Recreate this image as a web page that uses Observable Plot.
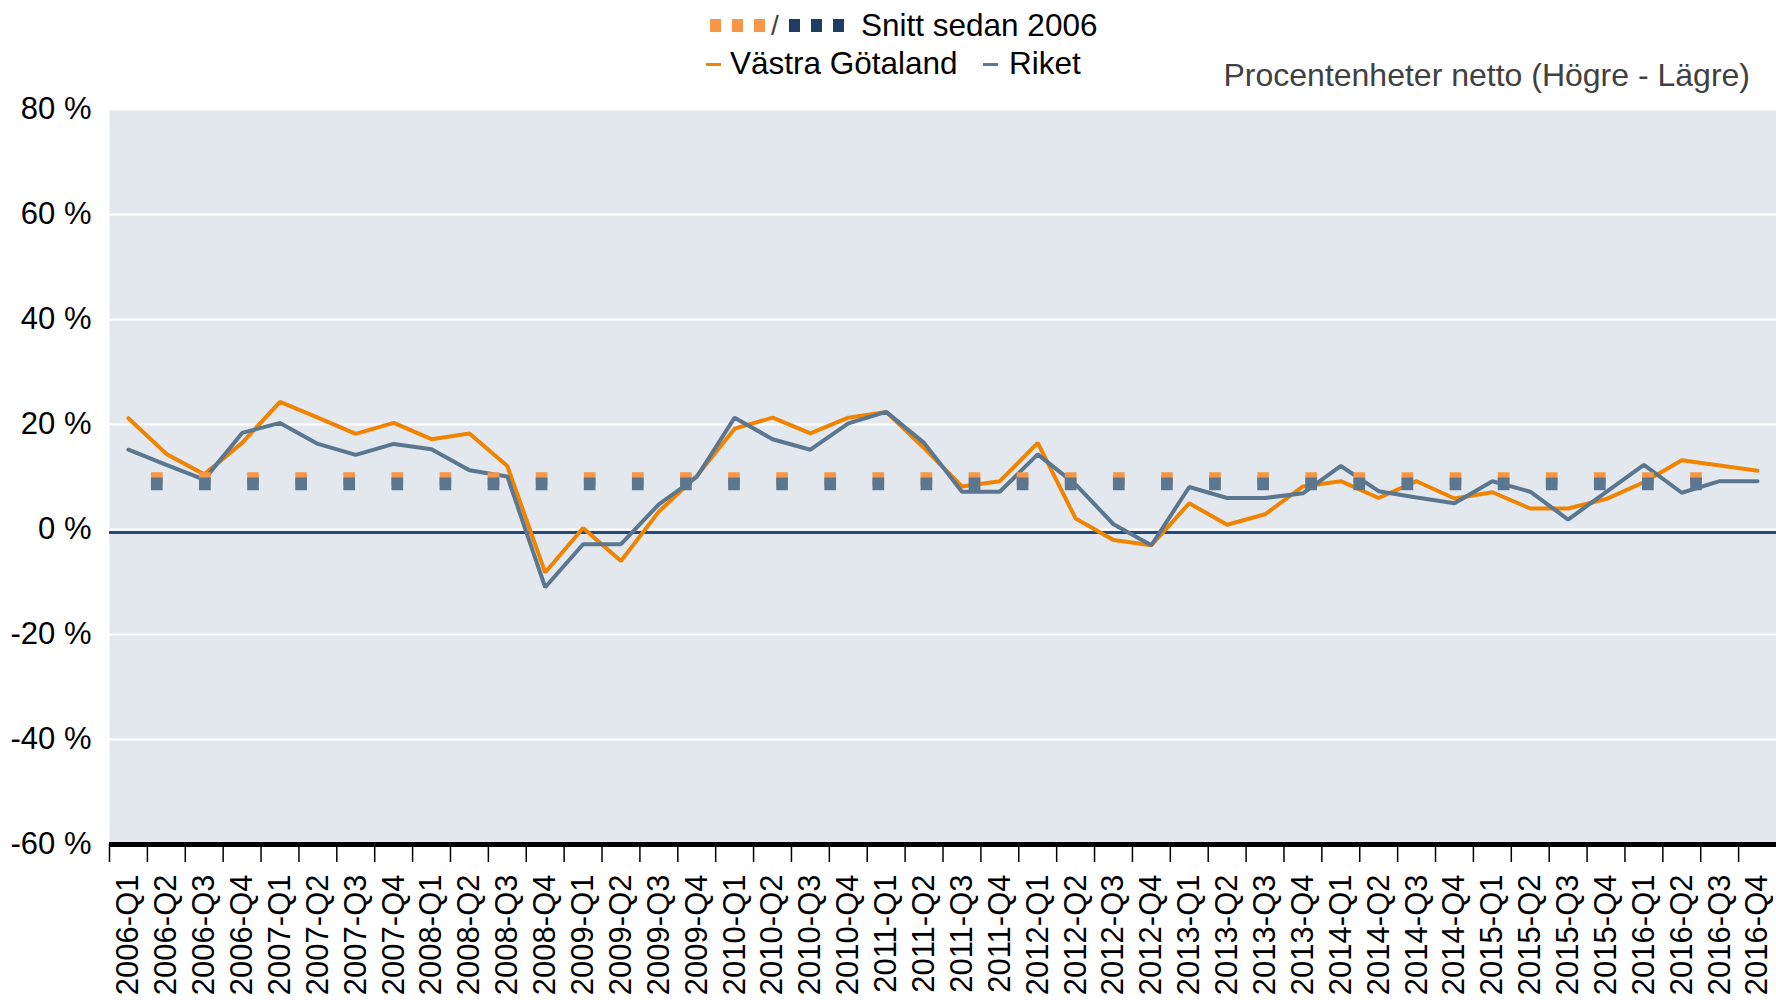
<!DOCTYPE html>
<html>
<head>
<meta charset="utf-8">
<script src="https://cdn.jsdelivr.net/npm/d3@7"></script>
<script src="https://cdn.jsdelivr.net/npm/@observablehq/plot@0.6"></script>
<style>
  body { margin: 0; background: #fff; font-family: "Liberation Sans", Arial, sans-serif; }
  #wrap { width: 1776px; }
  #head { position: relative; width: 1776px; height: 100px; font-size: 31.5px; color: #000; }
  #head .t { position: absolute; line-height: 31px; white-space: nowrap; }
  #head .sq { position: absolute; width: 11px; height: 13px; }
  #head .dash { position: absolute; width: 15px; height: 3px; }
</style>
</head>
<body>
<div id="wrap">
  <div id="head"></div>
  <div id="chart"></div>
</div>
<script>
// ---- data ----
const quarters = [
  "2006-Q1","2006-Q2","2006-Q3","2006-Q4",
  "2007-Q1","2007-Q2","2007-Q3","2007-Q4",
  "2008-Q1","2008-Q2","2008-Q3","2008-Q4",
  "2009-Q1","2009-Q2","2009-Q3","2009-Q4",
  "2010-Q1","2010-Q2","2010-Q3","2010-Q4",
  "2011-Q1","2011-Q2","2011-Q3","2011-Q4",
  "2012-Q1","2012-Q2","2012-Q3","2012-Q4",
  "2013-Q1","2013-Q2","2013-Q3","2013-Q4",
  "2014-Q1","2014-Q2","2014-Q3","2014-Q4",
  "2015-Q1","2015-Q2","2015-Q3","2015-Q4",
  "2016-Q1","2016-Q2","2016-Q3","2016-Q4"
];
const vastraGotaland = [
  21.2, 14.4, 10.5, 16.5,
  24.3, 21.3, 18.2, 20.3,
  17.2, 18.3, 12.1, -8.2,
  0.3, -6.0, 3.4, 10.2,
  19.2, 21.3, 18.3, 21.3,
  22.4, 15.5, 8.2, 9.2,
  16.5, 2.1, -2.0, -3.0,
  5.0, 0.9, 2.9, 8.2,
  9.2, 6.0, 9.2, 5.9,
  7.1, 4.0, 4.0, 5.8,
  9.0, 13.2, 12.2, 11.2
];
const riket = [
  15.2, 12.3, 9.5, 18.4,
  20.3, 16.3, 14.2, 16.3,
  15.3, 11.3, 10.1, -11.0,
  -2.8, -2.8, 4.8, 10.0,
  21.3, 17.2, 15.2, 20.2,
  22.4, 16.5, 7.2, 7.2,
  14.3, 8.6, 1.0, -3.0,
  8.1, 6.0, 6.0, 6.9,
  12.1, 7.3, 6.1, 5.0,
  9.2, 7.2, 1.9, 7.1,
  12.3, 7.0, 9.2, 9.2
];
// "Snitt sedan 2006" (average) series, drawn as a square-dot line
const snittQuarters = quarters.slice(0, 43);
const snittVastraGotaland = 9.7;
const snittRiket = 8.7;
const yTicks = [-60, -40, -20, 0, 20, 40, 60, 80];

const legendSnitt = "Snitt sedan 2006";
const seriesNames = ["Västra Götaland", "Riket"];
const subtitle = "Procentenheter netto (Högre - Lägre)";

// ---- colours ----
const cOrange = "#F08300";
const cSlate = "#5B7790";
const cOrangeLight = "#F79646";
const cNavy = "#1F3D63";

// ---- header (legend + subtitle) ----
const head = document.getElementById("head");
function add(cls, style, text) {
  const el = document.createElement("div");
  el.className = cls;
  Object.assign(el.style, style);
  if (text != null) el.textContent = text;
  head.appendChild(el);
}
[710, 732, 754].forEach(x => add("sq", {left: x + "px", top: "19px", background: cOrangeLight}));
add("t", {left: "771px", top: "10px", color: "#404040", fontSize: "28px"}, "/");
[789, 811, 833].forEach(x => add("sq", {left: x + "px", top: "19px", background: cNavy}));
add("t", {left: "861px", top: "10px"}, legendSnitt);
add("dash", {left: "706px", top: "63px", background: cOrange});
add("t", {left: "730px", top: "48px"}, seriesNames[0]);
add("dash", {left: "983px", top: "63px", background: cSlate});
add("t", {left: "1009px", top: "48px"}, seriesNames[1]);
add("t", {right: "26px", top: "60px", color: "#404040", fontSize: "32px"}, subtitle);

// ---- chart ----
const vgData = quarters.map((q, i) => ({q, v: vastraGotaland[i]}));
const riketData = quarters.map((q, i) => ({q, v: riket[i]}));
const snittVgData = snittQuarters.map(q => ({q, v: snittVastraGotaland}));
const snittRiketData = snittQuarters.map(q => ({q, v: snittRiket}));

const W = 1776, ML = 109, MR = 0;
const step = (W - ML - MR) / quarters.length;

const chart = Plot.plot({
  width: W,
  height: 900,
  marginTop: 9,
  marginBottom: 156,
  marginLeft: ML,
  marginRight: MR,
  style: {
    fontFamily: "'Liberation Sans', Arial, sans-serif",
    fontSize: "31px",
    color: "#000",
    background: "#fff",
    overflow: "visible"
  },
  x: {type: "point", domain: quarters, padding: 0.5, align: 0.5, label: null},
  y: {domain: [-60, 80], label: null},
  marks: [
    Plot.frame({fill: "#E3E8EF", stroke: null}),
    Plot.gridY(yTicks, {stroke: "#fff", strokeOpacity: 1, strokeWidth: 2}),
    Plot.ruleY([0], {stroke: "#244A7C", strokeWidth: 3, dy: 3}),
    Plot.line(vgData, {x: "q", y: "v", stroke: cOrange, strokeWidth: 4, strokeLinejoin: "miter"}),
    Plot.line(riketData, {x: "q", y: "v", stroke: cSlate, strokeWidth: 4, strokeLinejoin: "miter"}),
    Plot.line(snittVgData, {x: "q", y: "v", stroke: cOrangeLight, strokeWidth: 12.7,
      strokeDasharray: "11.7 36.4", strokeDashoffset: 25.6, strokeLinecap: "butt"}),
    Plot.line(snittRiketData, {x: "q", y: "v", stroke: cSlate, strokeWidth: 12.7,
      strokeDasharray: "11.7 36.4", strokeDashoffset: 25.6, strokeLinecap: "butt"}),
    Plot.ruleY([-60], {stroke: "#000", strokeWidth: 5}),
    Plot.axisY(yTicks, {tickSize: 0, tickPadding: 18, tickFormat: d => `${d} %`, fontSize: 31, label: null}),
    Plot.axisX({tickSize: 18, dx: -step / 2, tickFormat: () => "", strokeWidth: 1.5, label: null}),
    Plot.axisX({tickSize: 0, tickPadding: 30, tickRotate: -90, fontSize: 31, label: null})
  ]
});
document.getElementById("chart").appendChild(chart);
</script>
</body>
</html>
